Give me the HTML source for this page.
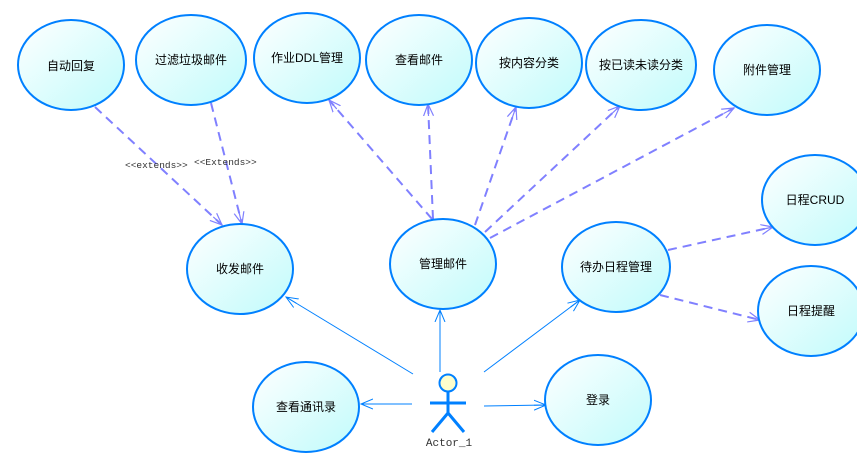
<!DOCTYPE html>
<html><head><meta charset="utf-8"><style>
html,body{margin:0;padding:0;background:#fff;width:857px;height:454px;overflow:hidden}
text{font-family:"Liberation Sans","Noto Sans CJK SC",sans-serif;font-size:12px;fill:#000}
.m{font-family:"Liberation Mono","Noto Sans CJK SC",monospace;font-size:11px;fill:#333}
.e{font-size:9.5px}
</style></head><body>
<svg width="857" height="454" xmlns="http://www.w3.org/2000/svg">
<defs>
<linearGradient id="g" x1="0" y1="0" x2="1" y2="1">
<stop offset="0" stop-color="#ffffff"/><stop offset="1" stop-color="#c0fbfb"/>
</linearGradient>
<marker id="ap" markerWidth="14" markerHeight="12" refX="12" refY="6" orient="auto" markerUnits="userSpaceOnUse">
<path d="M0,1 L12,6 L0,11 M0,6 L12,6" fill="none" stroke="#8080ff" stroke-width="1.2"/>
</marker>
<marker id="ab" markerWidth="14" markerHeight="12" refX="12" refY="6" orient="auto" markerUnits="userSpaceOnUse">
<path d="M0,1 L12,6 L0,11 M0,6 L12,6" fill="none" stroke="#0080ff" stroke-width="1"/>
</marker>
</defs>
<g fill="none" stroke="#8080ff" stroke-width="2" stroke-dasharray="9,6">
<line x1="95" y1="107" x2="222" y2="225" marker-end="url(#ap)"/>
<line x1="211" y1="103" x2="242" y2="224" marker-end="url(#ap)"/>
<line x1="432" y1="219" x2="329" y2="100" marker-end="url(#ap)"/>
<line x1="433" y1="219" x2="428" y2="104" marker-end="url(#ap)"/>
<line x1="475" y1="225" x2="516" y2="107" marker-end="url(#ap)"/>
<line x1="485" y1="232" x2="620" y2="106" marker-end="url(#ap)"/>
<line x1="490" y1="238" x2="734" y2="108" marker-end="url(#ap)"/>
<line x1="668" y1="250" x2="773" y2="227" marker-end="url(#ap)"/>
<line x1="660" y1="295" x2="760" y2="320" marker-end="url(#ap)"/>
</g>
<g fill="none" stroke="#0080ff" stroke-width="1">
<line x1="413" y1="374" x2="286" y2="297" marker-end="url(#ab)"/>
<line x1="440" y1="372" x2="440" y2="310" marker-end="url(#ab)"/>
<line x1="484" y1="372" x2="580" y2="300" marker-end="url(#ab)"/>
<line x1="412" y1="404" x2="361" y2="404" marker-end="url(#ab)"/>
<line x1="484" y1="406" x2="546" y2="405" marker-end="url(#ab)"/>
</g>
<g fill="url(#g)" stroke="#0080ff" stroke-width="2">
<ellipse cx="71" cy="65" rx="53" ry="45"/>
<ellipse cx="191" cy="60" rx="55" ry="45"/>
<ellipse cx="307" cy="58" rx="53" ry="45"/>
<ellipse cx="419" cy="60" rx="53" ry="45"/>
<ellipse cx="529" cy="63" rx="53" ry="45"/>
<ellipse cx="641" cy="65" rx="55" ry="45"/>
<ellipse cx="767" cy="70" rx="53" ry="45"/>
<ellipse cx="240" cy="269" rx="53" ry="45"/>
<ellipse cx="443" cy="264" rx="53" ry="45"/>
<ellipse cx="616" cy="267" rx="54" ry="45"/>
<ellipse cx="815" cy="200" rx="53" ry="45"/>
<ellipse cx="811" cy="311" rx="53" ry="45"/>
<ellipse cx="306" cy="407" rx="53" ry="45"/>
<ellipse cx="598" cy="400" rx="53" ry="45"/>
</g>
<g text-anchor="middle">
<text x="71" y="70">自动回复</text>
<text x="191" y="64">过滤垃圾邮件</text>
<text x="307" y="62">作业DDL管理</text>
<text x="419" y="64">查看邮件</text>
<text x="529" y="67">按内容分类</text>
<text x="641" y="69">按已读未读分类</text>
<text x="767" y="74">附件管理</text>
<text x="240" y="273">收发邮件</text>
<text x="443" y="268">管理邮件</text>
<text x="616" y="271">待办日程管理</text>
<text x="815" y="204">日程CRUD</text>
<text x="811" y="315">日程提醒</text>
<text x="306" y="411">查看通讯录</text>
<text x="598" y="404">登录</text>
</g>
<text class="m e" x="125" y="168">&lt;&lt;extends&gt;&gt;</text>
<text class="m e" x="194" y="165">&lt;&lt;Extends&gt;&gt;</text>
<circle cx="448" cy="383" r="8.5" fill="#ffffcc" stroke="#0080ff" stroke-width="2"/>
<g stroke="#0080ff" stroke-width="3" fill="none">
<line x1="448" y1="392" x2="448" y2="414"/>
<line x1="430" y1="403" x2="466" y2="403"/>
<line x1="448" y1="413" x2="432" y2="432"/>
<line x1="448" y1="413" x2="464" y2="432"/>
</g>
<text class="m" x="449" y="446" text-anchor="middle">Actor_1</text>
</svg>
</body></html>
